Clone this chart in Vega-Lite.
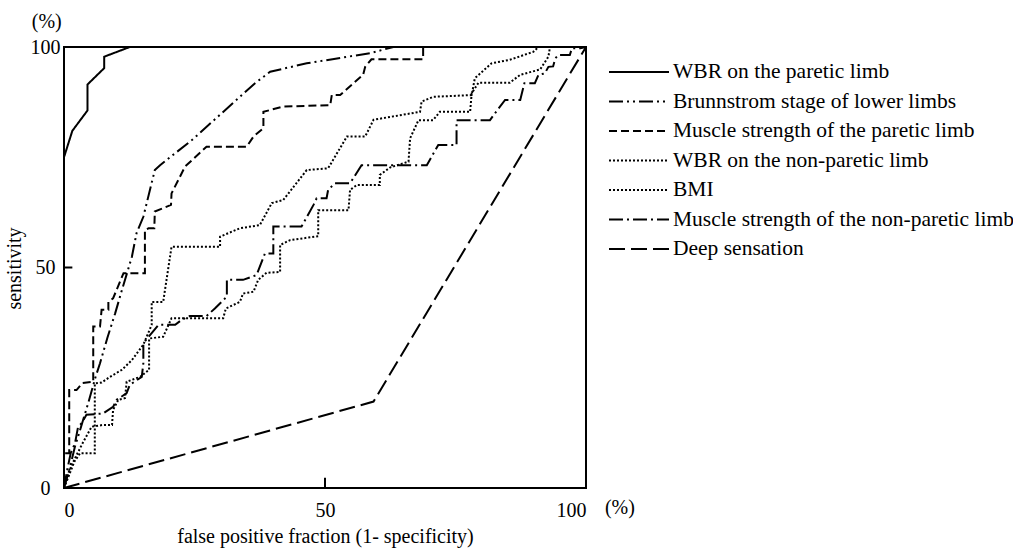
{
  "$schema": "https://vega.github.io/schema/vega-lite/v6.json",
  "width": 522,
  "height": 441,
  "autosize": {"type": "none"},
  "padding": {"left": 64, "top": 47, "right": 427, "bottom": 63},
  "background": "white",
  "config": {
    "view": {"stroke": "black", "strokeWidth": 2},
    "font": "Liberation Serif",
    "axis": {
      "labelFont": "Liberation Serif",
      "labelFontSize": 20,
      "labelColor": "black",
      "titleFont": "Liberation Serif",
      "titleFontSize": 20,
      "titleFontWeight": "normal",
      "titleColor": "black",
      "ticks": false,
      "domain": false,
      "grid": false
    }
  },
  "layer": [
    {
      "data": {
        "values": [
          {"s": "WBR on the paretic limb", "x": 0, "y": 0},
          {"s": "WBR on the paretic limb", "x": 0, "y": 75},
          {"s": "WBR on the paretic limb", "x": 1.6, "y": 81},
          {"s": "WBR on the paretic limb", "x": 4.5, "y": 85.6},
          {"s": "WBR on the paretic limb", "x": 4.5, "y": 91.5},
          {"s": "WBR on the paretic limb", "x": 7.7, "y": 95.2},
          {"s": "WBR on the paretic limb", "x": 7.7, "y": 97.8},
          {"s": "WBR on the paretic limb", "x": 12.6, "y": 100},
          {"s": "WBR on the paretic limb", "x": 100, "y": 100},

          {"s": "Brunnstrom stage of lower limbs", "x": 0, "y": 0},
          {"s": "Brunnstrom stage of lower limbs", "x": 1, "y": 4},
          {"s": "Brunnstrom stage of lower limbs", "x": 2.1, "y": 9.4},
          {"s": "Brunnstrom stage of lower limbs", "x": 3.3, "y": 14},
          {"s": "Brunnstrom stage of lower limbs", "x": 4.7, "y": 19.5},
          {"s": "Brunnstrom stage of lower limbs", "x": 6, "y": 25},
          {"s": "Brunnstrom stage of lower limbs", "x": 6.9, "y": 28.3},
          {"s": "Brunnstrom stage of lower limbs", "x": 8.3, "y": 34},
          {"s": "Brunnstrom stage of lower limbs", "x": 9.8, "y": 39.6},
          {"s": "Brunnstrom stage of lower limbs", "x": 11, "y": 44.5},
          {"s": "Brunnstrom stage of lower limbs", "x": 13, "y": 52.4},
          {"s": "Brunnstrom stage of lower limbs", "x": 13.9, "y": 57.8},
          {"s": "Brunnstrom stage of lower limbs", "x": 15.2, "y": 61.5},
          {"s": "Brunnstrom stage of lower limbs", "x": 17.4, "y": 72.1},
          {"s": "Brunnstrom stage of lower limbs", "x": 18.4, "y": 73.2},
          {"s": "Brunnstrom stage of lower limbs", "x": 24.5, "y": 78.9},
          {"s": "Brunnstrom stage of lower limbs", "x": 36.6, "y": 91.8},
          {"s": "Brunnstrom stage of lower limbs", "x": 39.5, "y": 94.4},
          {"s": "Brunnstrom stage of lower limbs", "x": 46.5, "y": 96.3},
          {"s": "Brunnstrom stage of lower limbs", "x": 58.6, "y": 98.6},
          {"s": "Brunnstrom stage of lower limbs", "x": 63.1, "y": 100},
          {"s": "Brunnstrom stage of lower limbs", "x": 100, "y": 100},

          {"s": "Muscle strength of the paretic limb", "x": 0, "y": 0},
          {"s": "Muscle strength of the paretic limb", "x": 0, "y": 7.9},
          {"s": "Muscle strength of the paretic limb", "x": 1, "y": 7.9},
          {"s": "Muscle strength of the paretic limb", "x": 1, "y": 22.2},
          {"s": "Muscle strength of the paretic limb", "x": 2.4, "y": 22.2},
          {"s": "Muscle strength of the paretic limb", "x": 3.5, "y": 23.8},
          {"s": "Muscle strength of the paretic limb", "x": 5.6, "y": 24.1},
          {"s": "Muscle strength of the paretic limb", "x": 5.6, "y": 36.6},
          {"s": "Muscle strength of the paretic limb", "x": 6.9, "y": 36.6},
          {"s": "Muscle strength of the paretic limb", "x": 7.2, "y": 40.4},
          {"s": "Muscle strength of the paretic limb", "x": 8.5, "y": 40.4},
          {"s": "Muscle strength of the paretic limb", "x": 8.5, "y": 42.2},
          {"s": "Muscle strength of the paretic limb", "x": 9.4, "y": 43},
          {"s": "Muscle strength of the paretic limb", "x": 11.4, "y": 48.7},
          {"s": "Muscle strength of the paretic limb", "x": 15.5, "y": 48.7},
          {"s": "Muscle strength of the paretic limb", "x": 15.5, "y": 58.5},
          {"s": "Muscle strength of the paretic limb", "x": 16.2, "y": 58.9},
          {"s": "Muscle strength of the paretic limb", "x": 17.3, "y": 58.9},
          {"s": "Muscle strength of the paretic limb", "x": 17.4, "y": 62.7},
          {"s": "Muscle strength of the paretic limb", "x": 20.5, "y": 64.2},
          {"s": "Muscle strength of the paretic limb", "x": 20.6, "y": 66.8},
          {"s": "Muscle strength of the paretic limb", "x": 23.2, "y": 72.9},
          {"s": "Muscle strength of the paretic limb", "x": 27.3, "y": 77.4},
          {"s": "Muscle strength of the paretic limb", "x": 35, "y": 77.4},
          {"s": "Muscle strength of the paretic limb", "x": 36.3, "y": 79.7},
          {"s": "Muscle strength of the paretic limb", "x": 38.2, "y": 81.6},
          {"s": "Muscle strength of the paretic limb", "x": 38.2, "y": 85.3},
          {"s": "Muscle strength of the paretic limb", "x": 42, "y": 86.5},
          {"s": "Muscle strength of the paretic limb", "x": 51, "y": 86.8},
          {"s": "Muscle strength of the paretic limb", "x": 51.3, "y": 89.1},
          {"s": "Muscle strength of the paretic limb", "x": 52.9, "y": 89.1},
          {"s": "Muscle strength of the paretic limb", "x": 57.3, "y": 93.7},
          {"s": "Muscle strength of the paretic limb", "x": 57.7, "y": 95.5},
          {"s": "Muscle strength of the paretic limb", "x": 58.9, "y": 97.2},
          {"s": "Muscle strength of the paretic limb", "x": 68.8, "y": 97.2},
          {"s": "Muscle strength of the paretic limb", "x": 68.8, "y": 100},
          {"s": "Muscle strength of the paretic limb", "x": 100, "y": 100},

          {"s": "WBR on the non-paretic limb", "x": 0, "y": 0},
          {"s": "WBR on the non-paretic limb", "x": 1, "y": 3},
          {"s": "WBR on the non-paretic limb", "x": 2, "y": 6},
          {"s": "WBR on the non-paretic limb", "x": 3.1, "y": 7.9},
          {"s": "WBR on the non-paretic limb", "x": 5.9, "y": 7.9},
          {"s": "WBR on the non-paretic limb", "x": 5.9, "y": 23.7},
          {"s": "WBR on the non-paretic limb", "x": 7.2, "y": 23.9},
          {"s": "WBR on the non-paretic limb", "x": 8.8, "y": 25.2},
          {"s": "WBR on the non-paretic limb", "x": 11.1, "y": 26.8},
          {"s": "WBR on the non-paretic limb", "x": 13, "y": 29},
          {"s": "WBR on the non-paretic limb", "x": 15.2, "y": 32.5},
          {"s": "WBR on the non-paretic limb", "x": 16.8, "y": 37},
          {"s": "WBR on the non-paretic limb", "x": 16.8, "y": 42.2},
          {"s": "WBR on the non-paretic limb", "x": 19, "y": 42.2},
          {"s": "WBR on the non-paretic limb", "x": 20.6, "y": 54.7},
          {"s": "WBR on the non-paretic limb", "x": 29.9, "y": 54.7},
          {"s": "WBR on the non-paretic limb", "x": 29.9, "y": 57},
          {"s": "WBR on the non-paretic limb", "x": 33.7, "y": 58.9},
          {"s": "WBR on the non-paretic limb", "x": 37.5, "y": 59.6},
          {"s": "WBR on the non-paretic limb", "x": 39.8, "y": 64.6},
          {"s": "WBR on the non-paretic limb", "x": 42, "y": 65.3},
          {"s": "WBR on the non-paretic limb", "x": 46.5, "y": 72.1},
          {"s": "WBR on the non-paretic limb", "x": 50.6, "y": 72.5},
          {"s": "WBR on the non-paretic limb", "x": 54.2, "y": 79.7},
          {"s": "WBR on the non-paretic limb", "x": 57.7, "y": 79.7},
          {"s": "WBR on the non-paretic limb", "x": 59.3, "y": 83.5},
          {"s": "WBR on the non-paretic limb", "x": 68.2, "y": 85.3},
          {"s": "WBR on the non-paretic limb", "x": 68.5, "y": 87.6},
          {"s": "WBR on the non-paretic limb", "x": 70.7, "y": 88.7},
          {"s": "WBR on the non-paretic limb", "x": 78.1, "y": 89.1},
          {"s": "WBR on the non-paretic limb", "x": 78.7, "y": 92.9},
          {"s": "WBR on the non-paretic limb", "x": 81.9, "y": 96.3},
          {"s": "WBR on the non-paretic limb", "x": 85.4, "y": 97.1},
          {"s": "WBR on the non-paretic limb", "x": 89.9, "y": 98.9},
          {"s": "WBR on the non-paretic limb", "x": 90.9, "y": 100},
          {"s": "WBR on the non-paretic limb", "x": 100, "y": 100},

          {"s": "BMI", "x": 0, "y": 0},
          {"s": "BMI", "x": 0.5, "y": 2.5},
          {"s": "BMI", "x": 2, "y": 6.5},
          {"s": "BMI", "x": 3.5, "y": 10},
          {"s": "BMI", "x": 5.3, "y": 13.9},
          {"s": "BMI", "x": 7.5, "y": 14.3},
          {"s": "BMI", "x": 9.2, "y": 14.3},
          {"s": "BMI", "x": 9.4, "y": 17.7},
          {"s": "BMI", "x": 10.4, "y": 20},
          {"s": "BMI", "x": 11.7, "y": 20.4},
          {"s": "BMI", "x": 12, "y": 24.1},
          {"s": "BMI", "x": 14.6, "y": 25.2},
          {"s": "BMI", "x": 16.3, "y": 26.8},
          {"s": "BMI", "x": 16.3, "y": 33.9},
          {"s": "BMI", "x": 19, "y": 34.3},
          {"s": "BMI", "x": 20.6, "y": 38.5},
          {"s": "BMI", "x": 30.5, "y": 38.5},
          {"s": "BMI", "x": 31, "y": 40.7},
          {"s": "BMI", "x": 33.7, "y": 42.2},
          {"s": "BMI", "x": 34.3, "y": 44.1},
          {"s": "BMI", "x": 36.3, "y": 44.5},
          {"s": "BMI", "x": 37.2, "y": 47.2},
          {"s": "BMI", "x": 38.8, "y": 48.8},
          {"s": "BMI", "x": 41.4, "y": 49},
          {"s": "BMI", "x": 41.4, "y": 55.1},
          {"s": "BMI", "x": 43.3, "y": 56.2},
          {"s": "BMI", "x": 48.7, "y": 57.1},
          {"s": "BMI", "x": 48.7, "y": 63},
          {"s": "BMI", "x": 54.5, "y": 63},
          {"s": "BMI", "x": 54.8, "y": 67.6},
          {"s": "BMI", "x": 56.1, "y": 68.7},
          {"s": "BMI", "x": 60.5, "y": 68.7},
          {"s": "BMI", "x": 60.5, "y": 71},
          {"s": "BMI", "x": 62.5, "y": 72.7},
          {"s": "BMI", "x": 66, "y": 74},
          {"s": "BMI", "x": 66.3, "y": 79.3},
          {"s": "BMI", "x": 67.9, "y": 83.4},
          {"s": "BMI", "x": 70.7, "y": 83.4},
          {"s": "BMI", "x": 72, "y": 85.3},
          {"s": "BMI", "x": 77.8, "y": 85.3},
          {"s": "BMI", "x": 78.1, "y": 89.5},
          {"s": "BMI", "x": 79.4, "y": 91.9},
          {"s": "BMI", "x": 85.4, "y": 91.9},
          {"s": "BMI", "x": 87.4, "y": 93.7},
          {"s": "BMI", "x": 91.2, "y": 94.9},
          {"s": "BMI", "x": 92.8, "y": 97.8},
          {"s": "BMI", "x": 93.1, "y": 100},
          {"s": "BMI", "x": 100, "y": 100},

          {"s": "Muscle strength of the non-paretic limb", "x": 0, "y": 0},
          {"s": "Muscle strength of the non-paretic limb", "x": 0.6, "y": 4},
          {"s": "Muscle strength of the non-paretic limb", "x": 1.3, "y": 8},
          {"s": "Muscle strength of the non-paretic limb", "x": 2.1, "y": 10.1},
          {"s": "Muscle strength of the non-paretic limb", "x": 2.7, "y": 13.9},
          {"s": "Muscle strength of the non-paretic limb", "x": 3.4, "y": 14.7},
          {"s": "Muscle strength of the non-paretic limb", "x": 4.3, "y": 16.6},
          {"s": "Muscle strength of the non-paretic limb", "x": 7.5, "y": 16.9},
          {"s": "Muscle strength of the non-paretic limb", "x": 9.4, "y": 18.4},
          {"s": "Muscle strength of the non-paretic limb", "x": 10.1, "y": 20},
          {"s": "Muscle strength of the non-paretic limb", "x": 12, "y": 21.5},
          {"s": "Muscle strength of the non-paretic limb", "x": 12.6, "y": 23.4},
          {"s": "Muscle strength of the non-paretic limb", "x": 14.9, "y": 25.2},
          {"s": "Muscle strength of the non-paretic limb", "x": 15.2, "y": 28.3},
          {"s": "Muscle strength of the non-paretic limb", "x": 15.2, "y": 32.8},
          {"s": "Muscle strength of the non-paretic limb", "x": 16.2, "y": 34.3},
          {"s": "Muscle strength of the non-paretic limb", "x": 18.1, "y": 37},
          {"s": "Muscle strength of the non-paretic limb", "x": 21.3, "y": 37},
          {"s": "Muscle strength of the non-paretic limb", "x": 22.5, "y": 38.1},
          {"s": "Muscle strength of the non-paretic limb", "x": 24.1, "y": 39},
          {"s": "Muscle strength of the non-paretic limb", "x": 27.3, "y": 39},
          {"s": "Muscle strength of the non-paretic limb", "x": 28.9, "y": 40.7},
          {"s": "Muscle strength of the non-paretic limb", "x": 31.2, "y": 43.4},
          {"s": "Muscle strength of the non-paretic limb", "x": 31.2, "y": 47.2},
          {"s": "Muscle strength of the non-paretic limb", "x": 34.3, "y": 47.2},
          {"s": "Muscle strength of the non-paretic limb", "x": 36.9, "y": 48.3},
          {"s": "Muscle strength of the non-paretic limb", "x": 38.5, "y": 53.2},
          {"s": "Muscle strength of the non-paretic limb", "x": 40.1, "y": 53.2},
          {"s": "Muscle strength of the non-paretic limb", "x": 40.1, "y": 59.3},
          {"s": "Muscle strength of the non-paretic limb", "x": 45.5, "y": 59.3},
          {"s": "Muscle strength of the non-paretic limb", "x": 47.8, "y": 64.2},
          {"s": "Muscle strength of the non-paretic limb", "x": 48.4, "y": 65.7},
          {"s": "Muscle strength of the non-paretic limb", "x": 50.3, "y": 65.7},
          {"s": "Muscle strength of the non-paretic limb", "x": 50.6, "y": 67.6},
          {"s": "Muscle strength of the non-paretic limb", "x": 51.9, "y": 69.1},
          {"s": "Muscle strength of the non-paretic limb", "x": 54.8, "y": 69.1},
          {"s": "Muscle strength of the non-paretic limb", "x": 57, "y": 73.2},
          {"s": "Muscle strength of the non-paretic limb", "x": 69.5, "y": 73.2},
          {"s": "Muscle strength of the non-paretic limb", "x": 71.7, "y": 77.8},
          {"s": "Muscle strength of the non-paretic limb", "x": 75.2, "y": 77.8},
          {"s": "Muscle strength of the non-paretic limb", "x": 75.2, "y": 83.4},
          {"s": "Muscle strength of the non-paretic limb", "x": 81.6, "y": 83.4},
          {"s": "Muscle strength of the non-paretic limb", "x": 82.9, "y": 85.5},
          {"s": "Muscle strength of the non-paretic limb", "x": 84.5, "y": 88},
          {"s": "Muscle strength of the non-paretic limb", "x": 87.4, "y": 88},
          {"s": "Muscle strength of the non-paretic limb", "x": 88.2, "y": 91.8},
          {"s": "Muscle strength of the non-paretic limb", "x": 90.2, "y": 91.8},
          {"s": "Muscle strength of the non-paretic limb", "x": 90.9, "y": 93.7},
          {"s": "Muscle strength of the non-paretic limb", "x": 92.1, "y": 94},
          {"s": "Muscle strength of the non-paretic limb", "x": 92.8, "y": 95.5},
          {"s": "Muscle strength of the non-paretic limb", "x": 93.7, "y": 95.6},
          {"s": "Muscle strength of the non-paretic limb", "x": 94.1, "y": 97.4},
          {"s": "Muscle strength of the non-paretic limb", "x": 94.7, "y": 98.2},
          {"s": "Muscle strength of the non-paretic limb", "x": 96.9, "y": 98.2},
          {"s": "Muscle strength of the non-paretic limb", "x": 97.3, "y": 99.7},
          {"s": "Muscle strength of the non-paretic limb", "x": 98.9, "y": 99.7},
          {"s": "Muscle strength of the non-paretic limb", "x": 100, "y": 100},

          {"s": "Deep sensation", "x": 0, "y": 0},
          {"s": "Deep sensation", "x": 59.3, "y": 19.6},
          {"s": "Deep sensation", "x": 100, "y": 100}
        ]
      },
      "mark": {"type": "line", "color": "black", "strokeWidth": 2},
      "encoding": {
        "x": {
          "field": "x",
          "type": "quantitative",
          "scale": {"domain": [0, 100], "nice": false},
          "axis": {
            "title": "false positive fraction (1- specificity)",
            "values": [0, 50, 100],
            "labelFlush": true,
            "labelPadding": 12,
            "titleY": 38
          }
        },
        "y": {
          "field": "y",
          "type": "quantitative",
          "scale": {"domain": [0, 100], "nice": false},
          "axis": {
            "title": "sensitivity",
            "values": [0, 50, 100],
            "labelAlign": "center",
            "labelBaseline": "middle",
            "labelPadding": 19,
            "titleX": -50,
            "titleY": 221,
            "titleBaseline": "middle"
          }
        },
        "strokeDash": {
          "field": "s",
          "type": "nominal",
          "scale": {
            "domain": [
              "WBR on the paretic limb",
              "Brunnstrom stage of lower limbs",
              "Muscle strength of the paretic limb",
              "WBR on the non-paretic limb",
              "BMI",
              "Muscle strength of the non-paretic limb",
              "Deep sensation"
            ],
            "range": [[1, 0], [14, 4, 2, 4, 2, 4], [8, 4], [2, 2], [2, 2], [14, 4, 2, 4], [16, 6]]
          },
          "legend": {
            "orient": "none",
            "legendX": 564,
            "legendY": 14,
            "title": null,
            "padding": 0,
            "symbolType": "M-3,0H3",
            "symbolSize": 400,
            "symbolStrokeWidth": 2,
            "symbolStrokeColor": "black",
            "labelFont": "Liberation Serif",
            "labelFontSize": 21.5,
            "labelColor": "black",
            "labelOffset": 23,
            "labelLimit": 500,
            "rowPadding": 7.5
          }
        },
        "order": {"value": null}
      }
    },
    {
      "data": {"values": [{}]},
      "mark": {"type": "rule", "color": "black", "strokeWidth": 2},
      "encoding": {
        "x": {"datum": 50, "type": "quantitative"},
        "y": {"datum": 0, "type": "quantitative"},
        "y2": {"datum": 2.3}
      }
    },
    {
      "data": {"values": [{}]},
      "mark": {"type": "rule", "color": "black", "strokeWidth": 2},
      "encoding": {
        "y": {"datum": 50, "type": "quantitative"},
        "x": {"datum": 0, "type": "quantitative"},
        "x2": {"datum": 1.6}
      }
    },
    {
      "data": {"values": [{}]},
      "mark": {"type": "text", "font": "Liberation Serif", "fontSize": 20, "color": "black"},
      "encoding": {
        "x": {"datum": -3.3, "type": "quantitative"},
        "y": {"datum": 105.6, "type": "quantitative"},
        "text": {"value": "(%)"}
      }
    },
    {
      "data": {"values": [{}]},
      "mark": {"type": "text", "font": "Liberation Serif", "fontSize": 20, "color": "black"},
      "encoding": {
        "x": {"datum": 106.5, "type": "quantitative"},
        "y": {"datum": -4.5, "type": "quantitative"},
        "text": {"value": "(%)"}
      }
    }
  ]
}
